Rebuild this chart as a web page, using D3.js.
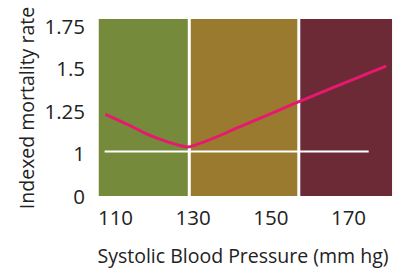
<!DOCTYPE html>
<meta charset="utf-8">
<style>
body { margin: 0; background: #fff; }
text { font-family: "Open Sans", sans-serif; fill: #222; }
</style>
<body>
<svg width="395" height="269"></svg>
<script src="https://d3js.org/d3.v7.min.js"></script>
<script>

// zones of systolic pressure (mm hg)
var zoneStart = [105.3, 129.0, 157.2];
var zoneEnd   = [129.0, 157.2, 181.6];
var zoneColor = ["#758a3a", "#9a7a2f", "#6c2a37"];

// mortality curve
var bpValues   = [107.7, 113.7, 118.0, 122.3, 126.6, 128.6, 131.0, 143.0, 156.9, 179.4];
var rateValues = [1.216, 1.153, 1.104, 1.065, 1.035, 1.026, 1.042, 1.155, 1.290, 1.500];

var xTicks = [110, 130, 150, 170];
var yTicks = [0, 1, 1.25, 1.5, 1.75];
var refStart = 107.2, refEnd = 175.2;   // white reference line at rate 1

var svg = d3.select("svg");

var x = d3.scaleLinear()
    .domain([110, 170])
    .range([115.5, 348.5]);

// broken axis: 0 sits one step below 1
var y = d3.scaleLinear()
    .domain([0, 1, 1.75])
    .range([194, 151.5, 24]);

var zones = zoneStart.map(function(d, i) {
  return { start: d, end: zoneEnd[i], color: zoneColor[i] };
});

svg.append("g")
  .selectAll("rect")
  .data(zones)
  .enter().append("rect")
    .attr("x", function(d) { return x(d.start) + 1.5; })
    .attr("width", function(d) { return x(d.end) - x(d.start) - 3; })
    .attr("y", y(1.75) - 5)
    .attr("height", y(0) - y(1.75) + 7)
    .attr("fill", function(d) { return d.color; });

svg.append("line")
    .attr("x1", x(refStart))
    .attr("x2", x(refEnd))
    .attr("y1", y(1))
    .attr("y2", y(1))
    .attr("stroke", "#fff")
    .attr("stroke-width", 2);

var line = d3.line()
    .x(function(d, i) { return x(bpValues[i]); })
    .y(function(d) { return y(d); })
    .curve(d3.curveMonotoneX);

svg.append("path")
    .attr("d", line(rateValues))
    .attr("fill", "none")
    .attr("stroke", "#e8186f")
    .attr("stroke-width", 3)
    .attr("stroke-linecap", "round");

// tick labels
svg.append("g")
  .selectAll("text")
  .data(yTicks)
  .enter().append("text")
    .attr("x", 85)
    .attr("y", function(d) { return y(d) + 1.5; })
    .attr("text-anchor", "end")
    .attr("dominant-baseline", "central")
    .style("font-size", "20.5px")
    .text(function(d) { return d; });

svg.append("g")
  .selectAll("text")
  .data(xTicks)
  .enter().append("text")
    .attr("x", function(d) { return x(d); })
    .attr("y", 217)
    .attr("text-anchor", "middle")
    .attr("dominant-baseline", "central")
    .style("font-size", "20.5px")
    .text(function(d) { return d; });

svg.append("text")
    .attr("x", 243)
    .attr("y", 255)
    .attr("text-anchor", "middle")
    .attr("dominant-baseline", "central")
    .style("font-size", "19.5px")
    .text("Systolic Blood Pressure (mm hg)");

svg.append("text")
    .attr("transform", "translate(26,108) rotate(-90)")
    .attr("text-anchor", "middle")
    .attr("dominant-baseline", "central")
    .style("font-size", "19.5px")
    .text("Indexed mortality rate");

</script>
</body>
